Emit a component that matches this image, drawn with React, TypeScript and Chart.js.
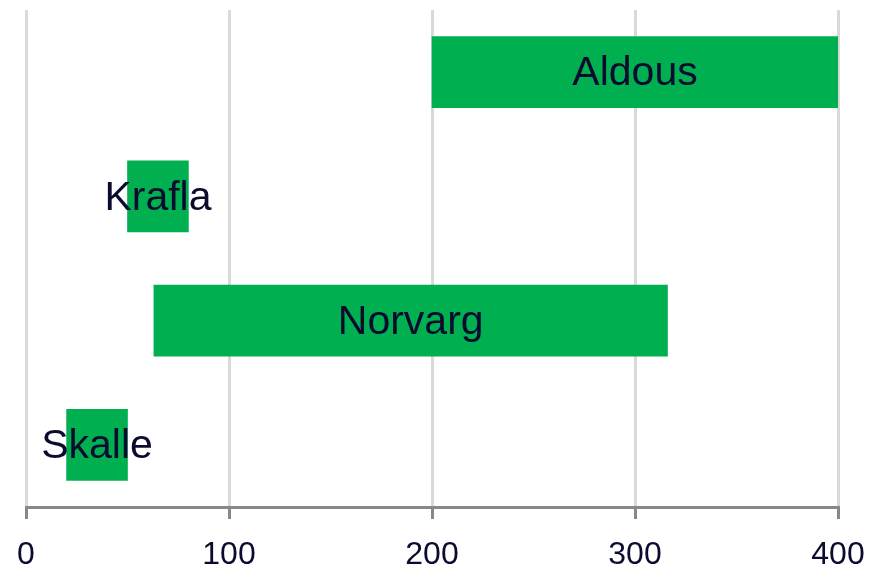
import React, { useEffect, useRef } from "react";
import { Chart, registerables } from "chart.js";

Chart.register(...registerables);

// Ships and their [start, end] spans along the x axis
const categories: string[] = ["Aldous", "Krafla", "Norvarg", "Skalle"];
const spanStart: number[] = [200, 50, 63, 20];
const spanEnd: number[] = [400, 80, 316, 50];
const xTicks: number[] = [0, 100, 200, 300, 400];

const BAR_COLOR = "#00b050";
const TEXT_COLOR = "#0b0b30";
const FONT = "'Liberation Sans', Arial, sans-serif";
const WIDTH = 882;
const HEIGHT = 570;

// Writes each category name centred on its bar
const barLabels = {
  id: "barLabels",
  afterDatasetsDraw(chart: any) {
    const { ctx } = chart;
    const meta = chart.getDatasetMeta(0);
    ctx.save();
    ctx.font = `41px ${FONT}`;
    ctx.fillStyle = TEXT_COLOR;
    ctx.textAlign = "center";
    ctx.textBaseline = "middle";
    meta.data.forEach((bar: any, i: number) => {
      const cx = (bar.x + bar.base) / 2;
      ctx.fillText(categories[i], cx, bar.y + 2);
    });
    ctx.restore();
  },
};

export default function App() {
  const canvasRef = useRef<HTMLCanvasElement | null>(null);

  useEffect(() => {
    if (!canvasRef.current) return;
    const chart = new Chart(canvasRef.current, {
      type: "bar",
      data: {
        labels: categories,
        datasets: [
          {
            data: categories.map((_, i) => [spanStart[i], spanEnd[i]]) as any,
            backgroundColor: BAR_COLOR,
            borderWidth: 0,
            barThickness: 71,
          },
        ],
      },
      options: {
        indexAxis: "y",
        responsive: false,
        animation: false,
        layout: { padding: { left: 26, right: 44, top: 10, bottom: 0 } },
        plugins: {
          legend: { display: false },
          tooltip: { enabled: false },
        },
        scales: {
          x: {
            min: 0,
            max: 400,
            afterBuildTicks: (axis: any) => {
              axis.ticks = xTicks.map((v) => ({ value: v }));
            },
            afterFit: (axis: any) => {
              axis.height = 63;
              axis.paddingLeft = 0;
              axis.paddingRight = 0;
            },
            grid: {
              color: "#d9d9d9",
              lineWidth: 3,
              tickLength: 12,
              tickColor: "#888888",
              tickWidth: 3,
            },
            border: { display: true, color: "#888888", width: 3 },
            ticks: {
              color: TEXT_COLOR,
              font: { family: FONT, size: 32, lineHeight: 1.2 },
              padding: 17,
              maxRotation: 0,
            },
          },
          y: {
            display: false,
          },
        },
      },
      plugins: [barLabels],
    });
    return () => chart.destroy();
  }, []);

  return (
    <div style={{ position: "fixed", left: 0, top: 0, width: WIDTH, height: HEIGHT, background: "#ffffff" }}>
      <canvas ref={canvasRef} width={WIDTH} height={HEIGHT} style={{ display: "block" }} />
    </div>
  );
}
